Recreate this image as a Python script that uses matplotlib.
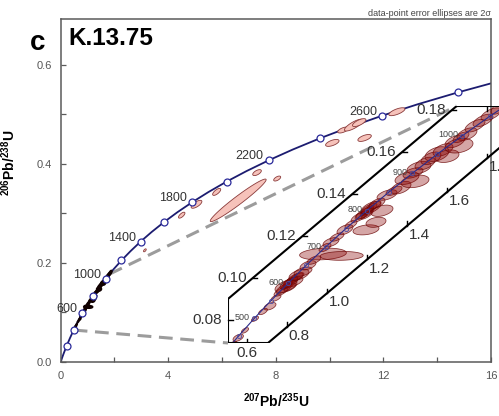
import numpy as np
import matplotlib
matplotlib.use("Agg")
import matplotlib.pyplot as plt
from matplotlib.patches import Polygon
from matplotlib.ticker import FormatStrFormatter

plt.rcParams['font.family'] = ['Liberation Sans', 'DejaVu Sans']
plt.rcParams['mathtext.fontset'] = 'custom'
plt.rcParams['mathtext.rm'] = 'Liberation Sans'
plt.rcParams['mathtext.bf'] = 'Liberation Sans:bold'

# concordia (age Ma, 207Pb/235U, 206Pb/238U)
conc_age = [0, 100, 200, 300, 400, 500, 600, 700, 800, 900, 1000, 1100, 1200, 1300, 1400,
            1500, 1600, 1700, 1800, 1900, 2000, 2100, 2200, 2300, 2400, 2500, 2600, 2700,
            2800, 2900]
conc_x = [0.0, 0.1035, 0.2177, 0.3437, 0.4828, 0.6363, 0.8056, 0.9925, 1.1987, 1.4263,
          1.6774, 1.9545, 2.2603, 2.5977, 2.9701, 3.3810, 3.8344, 4.3348, 4.8869, 5.4962,
          6.1685, 6.9105, 7.7292, 8.6326, 9.6296, 10.7297, 11.9437, 13.2834, 14.7617, 16.3930]
conc_y = [0.0, 0.0156, 0.0315, 0.0476, 0.0640, 0.0807, 0.0975, 0.1147, 0.1321, 0.1498,
          0.1678, 0.1861, 0.2046, 0.2234, 0.2426, 0.2620, 0.2817, 0.3018, 0.3221, 0.3428,
          0.3638, 0.3851, 0.4067, 0.4287, 0.4511, 0.4737, 0.4968, 0.5202, 0.5439, 0.5681]
conc_labels = [600, 1000, 1400, 1800, 2200, 2600]

# zoomed concordia for the inset
ins_age = [400, 450, 500, 550, 600, 650, 700, 750, 800, 850, 900, 950, 1000, 1050, 1100]
ins_x = [0.4828, 0.5576, 0.6363, 0.7189, 0.8056, 0.8968, 0.9925, 1.0931, 1.1987, 1.3097,
         1.4263, 1.5488, 1.6774, 1.8126, 1.9545]
ins_y = [0.0640, 0.0723, 0.0807, 0.0891, 0.0975, 0.1061, 0.1147, 0.1234, 0.1321, 0.1409,
         0.1498, 0.1588, 0.1678, 0.1769, 0.1861]
ins_labels = [500, 600, 700, 800, 900, 1000]
zoom_ages = [400, 1050]

# older / discordant grains (x, y, 2s x, 2s y, rho)
old_x = [6.60, 4.50, 5.05, 5.80, 7.30, 8.05, 10.10, 11.30, 10.50, 10.90, 11.10, 12.50, 3.13]
old_y = [0.326, 0.296, 0.318, 0.343, 0.382, 0.370, 0.442, 0.452, 0.468, 0.478, 0.483, 0.505, 0.225]
old_sx = [1.04, 0.12, 0.20, 0.15, 0.16, 0.13, 0.25, 0.25, 0.20, 0.35, 0.25, 0.30, 0.05]
old_sy = [0.043, 0.006, 0.008, 0.007, 0.006, 0.005, 0.007, 0.007, 0.006, 0.012, 0.008, 0.008, 0.003]
old_rho = [0.97, 0.7, 0.7, 0.7, 0.6, 0.6, 0.6, 0.6, 0.6, 0.8, 0.7, 0.7, 0.6]

# young grains shown in the inset (u = 207/235, v = 206/238)
ell_u = [0.530, 0.556, 0.590, 0.640, 0.680, 0.715, 0.745,
         0.770, 0.785, 0.800, 0.810, 0.820, 0.830, 0.840, 0.850, 0.795, 0.860, 0.880, 0.815,
         0.905, 0.935, 0.980, 1.073, 0.990, 1.020, 1.050, 1.090, 1.120,
         1.160, 1.175, 1.190, 1.200, 1.210, 1.220, 1.235, 1.250, 1.200, 1.195, 1.245, 1.275,
         1.300, 1.335, 1.370, 1.400, 1.430, 1.440, 1.460, 1.490, 1.520, 1.550, 1.580, 1.600,
         1.640, 1.670, 1.700, 1.660, 1.740, 1.780, 1.820, 1.860]
ell_v = [0.0685, 0.0715, 0.0750, 0.0805, 0.0840, 0.0865, 0.0905,
         0.0935, 0.0950, 0.0965, 0.0975, 0.0985, 0.0980, 0.1000, 0.1005, 0.0960, 0.1015, 0.1030, 0.0955,
         0.1060, 0.1085, 0.1114, 0.1105, 0.1145, 0.1170, 0.1195, 0.1230, 0.1255,
         0.1290, 0.1300, 0.1310, 0.1320, 0.1330, 0.1335, 0.1345, 0.1355, 0.1300, 0.1229, 0.1265, 0.1320,
         0.1395, 0.1415, 0.1430, 0.1475, 0.1500, 0.1460, 0.1525, 0.1545, 0.1570, 0.1590, 0.1610, 0.1580,
         0.1650, 0.1670, 0.1685, 0.1630, 0.1725, 0.1750, 0.1780, 0.1810]
ell_su = [0.020, 0.026, 0.018, 0.018, 0.022, 0.030, 0.025,
          0.035, 0.040, 0.030, 0.045, 0.035, 0.050, 0.040, 0.035, 0.055, 0.050, 0.045, 0.030,
          0.040, 0.035, 0.117, 0.108, 0.030, 0.040, 0.035, 0.040, 0.030,
          0.040, 0.035, 0.045, 0.035, 0.040, 0.050, 0.035, 0.040, 0.030, 0.065, 0.050, 0.055,
          0.050, 0.040, 0.050, 0.060, 0.050, 0.070, 0.060, 0.050, 0.050, 0.060, 0.050, 0.060,
          0.050, 0.040, 0.050, 0.070, 0.050, 0.050, 0.050, 0.040]
ell_sv = [0.0013, 0.0017, 0.0013, 0.0012, 0.0015, 0.0018, 0.0016,
          0.0022, 0.0025, 0.0020, 0.0028, 0.0022, 0.0025, 0.0024, 0.0020, 0.0030, 0.0026, 0.0022, 0.0018,
          0.0022, 0.0020, 0.0028, 0.0021, 0.0020, 0.0022, 0.0020, 0.0024, 0.0020,
          0.0025, 0.0022, 0.0028, 0.0025, 0.0025, 0.0030, 0.0022, 0.0025, 0.0020, 0.0024, 0.0024, 0.0027,
          0.0025, 0.0022, 0.0030, 0.0030, 0.0025, 0.0030, 0.0030, 0.0030, 0.0030, 0.0035, 0.0030, 0.0030,
          0.0030, 0.0025, 0.0030, 0.0035, 0.0030, 0.0030, 0.0030, 0.0030]
ell_rho = [0.6, 0.5, 0.6, 0.6, 0.6, 0.5, 0.6,
           0.7, 0.7, 0.8, 0.7, 0.7, 0.6, 0.7, 0.7, 0.5, 0.5, 0.5, 0.8,
           0.5, 0.6, 0.2, 0.1, 0.6, 0.5, 0.6, 0.5, 0.6,
           0.7, 0.7, 0.7, 0.8, 0.7, 0.6, 0.7, 0.6, 0.8, 0.3, 0.3, 0.4,
           0.5, 0.6, 0.5, 0.4, 0.5, 0.3, 0.4, 0.5, 0.5, 0.4, 0.5, 0.3,
           0.5, 0.6, 0.5, 0.3, 0.6, 0.6, 0.6, 0.6]

inset_uticks = [0.6, 0.8, 1.0, 1.2, 1.4, 1.6, 1.8]
inset_vticks = [0.08, 0.10, 0.12, 0.14, 0.16, 0.18]


def ellipse_xy(cx, cy, sx, sy, rho, n=60):
    t = np.linspace(0, 2 * np.pi, n)
    x = cx + sx * np.cos(t)
    y = cy + sy * (rho * np.cos(t) + np.sqrt(1 - rho ** 2) * np.sin(t))
    return np.column_stack([x, y])


W, H = 499, 416
fig = plt.figure(figsize=(W / 100, H / 100), dpi=100)

# ---- main concordia plot
ax = fig.add_axes([60.7 / W, 1 - 361.7 / H, 430.3 / W, 342.7 / H])
ax.set_xlim(0, 16)
ax.set_ylim(0, 0.6923)
for s in ax.spines.values():
    s.set_color('#5a5a5a')
    s.set_linewidth(1.1)
ax.set_xticks([0, 4, 8, 12, 16])
ax.set_xticks([2, 6, 10, 14], minor=True)
ax.set_yticks([0.0, 0.2, 0.4, 0.6])
ax.set_yticks([0.1, 0.3, 0.5], minor=True)
ax.xaxis.set_major_formatter(FormatStrFormatter('%d'))
ax.yaxis.set_major_formatter(FormatStrFormatter('%.1f'))
ax.tick_params(which='both', direction='in', length=3.5, width=0.9, color='#5a5a5a',
               labelsize=8, labelcolor='#555555')
ax.tick_params(axis='x', pad=7)
ax.tick_params(axis='y', pad=6)
ax.set_xlabel(r'$\mathbf{^{207}Pb/^{235}U}$', fontsize=10)
ax.set_ylabel(r'$\mathbf{^{206}Pb/^{238}U}$', fontsize=10)
ax.xaxis.set_label_coords(0.5, -0.086)
ax.yaxis.set_label_coords(-0.099, 0.58)

ax.plot(conc_x, conc_y, color='#1c1c70', lw=1.3, zorder=2)
mk = [a % 200 == 0 and a > 0 for a in conc_age]
ax.plot(np.array(conc_x)[mk], np.array(conc_y)[mk], 'o', ms=5, mfc='white',
        mec='#2a2a9a', mew=0.9, zorder=5)
for a in conc_labels:
    i = conc_age.index(a)
    ax.annotate(str(a), (conc_x[i], conc_y[i]), xytext=(-3.6, 2.9), textcoords='offset points',
                ha='right', va='center', fontsize=9, color='#333333', zorder=6)

for i in range(len(old_x)):
    p = Polygon(ellipse_xy(old_x[i], old_y[i], old_sx[i], old_sy[i], old_rho[i]),
                closed=True, fc='#f6c2ba', ec='#8a3a3a', lw=0.6, zorder=3)
    ax.add_patch(p)
for i in range(len(ell_u)):
    p = Polygon(ellipse_xy(ell_u[i], ell_v[i], ell_su[i], ell_sv[i], ell_rho[i]),
                closed=True, fc='#1a0505', ec='#100000', lw=1.4, zorder=3)
    ax.add_patch(p)

# ---- inset (sheared band)
axin = fig.add_axes([228 / W, 1 - 343 / H, 271 / W, 237 / H])
axin.set_xlim(0.505, 1.86)
axin.set_ylim(0.069, 0.1819)
axin.axis('off')
pu = 271 / (1.86 - 0.505)      # px per unit u
pv = 237 / (0.1819 - 0.069)    # px per unit v

band_uv = [(0.505, 0.069), (0.505, 0.090), (1.6485, 0.1819), (1.95, 0.1819),
           (1.95, 0.1690), (0.705, 0.069)]
band = Polygon(band_uv, closed=True, fill=False, ec='black', lw=1.5, zorder=6,
               transform=axin.transData)
axin.add_patch(band)
clip = Polygon(band_uv, closed=True, transform=axin.transData)

for i in range(len(ell_u)):
    p = Polygon(ellipse_xy(ell_u[i], ell_v[i], ell_su[i], ell_sv[i], ell_rho[i]),
                closed=True, fc=(0.55, 0.03, 0.03, 0.36), ec=(0.42, 0.02, 0.02, 0.8),
                lw=0.55, zorder=2)
    axin.add_patch(p)
    p.set_clip_path(clip)
ln, = axin.plot(ins_x, ins_y, color='#2a2a8a', lw=0.8, zorder=3)
ln.set_clip_path(clip)
mks, = axin.plot(ins_x, ins_y, 'o', ms=3, mfc='none', mec='#4a4aa0', mew=0.6, zorder=3)
mks.set_clip_path(clip)
for a in ins_labels:
    i = ins_age.index(a)
    axin.annotate(str(a), (ins_x[i], ins_y[i]), xytext=(-3, 0.7), textcoords='offset points',
                  ha='right', va='center', fontsize=6.5, color='#444444', zorder=7)

# edge geometry
bu, bv = band_uv[1]
cu, cv = band_uv[2]
fu, fv = band_uv[5]
slope = (cv - bv) / (cu - bu)
tl = 4.5  # tick length px
for v in inset_vticks:
    if v <= bv:
        ue = bu
    else:
        ue = bu + (v - bv) / slope
    axin.plot([ue, ue + tl / pu], [v, v], color='black', lw=1, zorder=6, clip_on=False)
    axin.annotate('%.2f' % v, (ue, v), xytext=(-4.5, 0), textcoords='offset points',
                  ha='right', va='center', fontsize=11, color='#333333', annotation_clip=False)
for u in inset_uticks:
    if u <= fu:
        ve = fv
        axin.plot([u, u], [ve, ve + tl / pv], color='black', lw=1, zorder=6)
        axin.annotate('%.1f' % u, (u, ve), xytext=(0, -2), textcoords='offset points',
                      ha='center', va='top', fontsize=11, color='#333333', annotation_clip=False)
    else:
        ve = fv + (u - fu) * slope
        axin.plot([u, u], [ve, ve + tl / pv], color='black', lw=1, zorder=6)
        axin.annotate('%.1f' % u, (u, ve), xytext=(1, -1.5), textcoords='offset points',
                      ha='left', va='top', fontsize=11, color='#333333', annotation_clip=False)
    if u >= cu:
        axin.plot([u, u], [cv, cv - tl / pv], color='black', lw=1, zorder=6)

# dashed zoom lines from the concordia to the inset corners
to_main = ax.transData.inverted()
ends = [band_uv[0], band_uv[2]]
for a, e in zip(zoom_ages, ends):
    i = ins_age.index(a)
    ex, ey = to_main.transform(axin.transData.transform(e))
    ax.plot([ins_x[i], ex], [ins_y[i], ey], color='#9c9c9c', lw=2.2,
            dashes=(4.5, 2.5), zorder=1)

fig.text(30 / W, 1 - 50.5 / H, 'c', fontsize=20, fontweight='bold', va='baseline')
fig.text(68 / W, 1 - 45 / H, 'K.13.75', fontsize=17.5, fontweight='bold', va='baseline')
fig.text(491 / W, 1 - 16 / H, 'data-point error ellipses are 2\u03c3', ha='right',
         va='baseline', fontsize=6.5, color='#444444')

fig.savefig('out.png', dpi=100)
